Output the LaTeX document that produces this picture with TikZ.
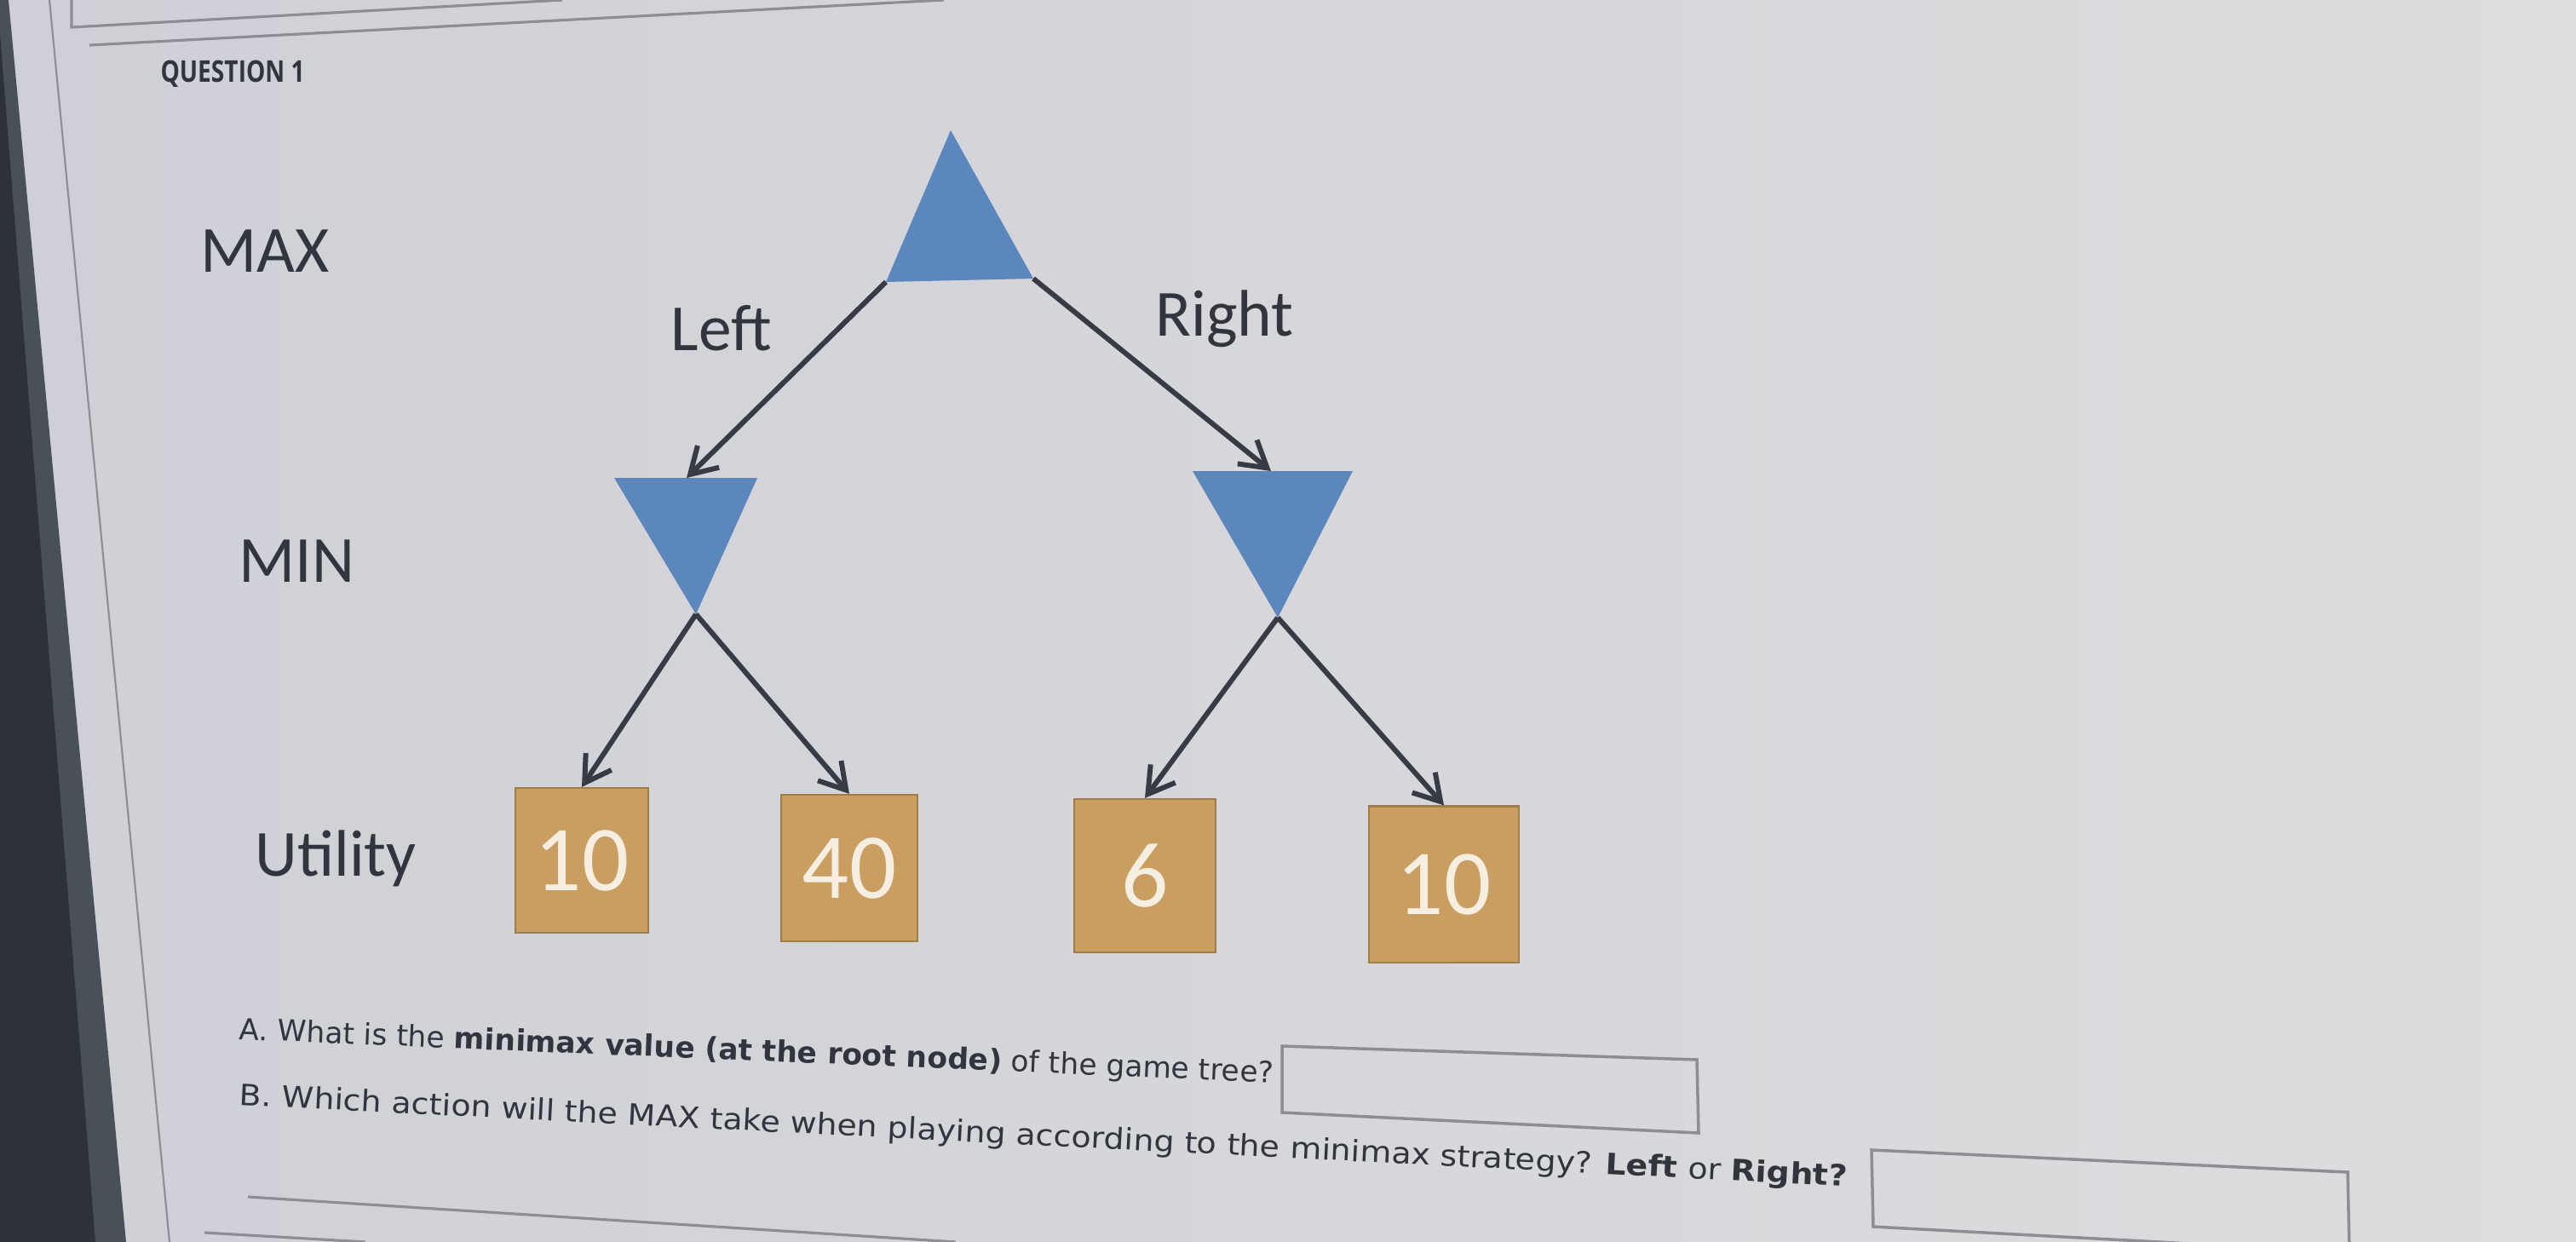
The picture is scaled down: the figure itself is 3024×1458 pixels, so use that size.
\documentclass[tikz,border=0pt]{standalone}
\usepackage{fontspec}
\setmainfont{Carlito}
\newfontfamily\qfont{DejaVu Sans}
\newfontfamily\hfont{Open Sans}
\usetikzlibrary{arrows.meta}
\definecolor{bgL}{RGB}{207,208,215}
\definecolor{bgR}{RGB}{221,221,223}
\definecolor{bezel}{RGB}{72,80,88}
\definecolor{bezeldark}{RGB}{44,50,55}
\definecolor{pageline}{RGB}{140,142,148}
\definecolor{triblue}{RGB}{92,135,188}
\definecolor{leaftan}{RGB}{201,158,96}
\definecolor{leafedge}{RGB}{160,124,72}
\definecolor{ink}{RGB}{50,54,60}
\definecolor{arrowink}{RGB}{55,60,68}
\definecolor{numwhite}{RGB}{245,238,225}
\tikzset{
  lbl/.style={anchor=base west, inner sep=0pt, text=ink, font=\fontsize{22pt}{26pt}\selectfont},
  leaf/.style={fill=leaftan, draw=leafedge, line width=0.6pt, text=numwhite, inner sep=0pt,
     font=\fontsize{31pt}{36pt}\selectfont},
  tri/.style={fill=triblue, draw=none},
  arr/.style={draw=arrowink, line width=1.7pt, -{Straight Barb[length=0.3cm,width=0.36cm]}},
  qtext/.style={anchor=base west, inner sep=0pt, text=ink, font=\qfont\fontsize{9.8pt}{11pt}\selectfont},
  ansbox/.style={draw=pageline, line width=1pt},
  thinline/.style={draw=pageline, line width=0.9pt}
}
\begin{document}
\begin{tikzpicture}[x=0.01cm,y=-0.01cm]
\useasboundingbox (0,0) rectangle (3024,1458);
% background
\shade[left color=bgL, right color=bgR] (0,0) rectangle (3024,1458);
% bezel at left
\fill[bezel] (0,0) -- (10,0) -- (148,1458) -- (0,1458) -- cycle;
\fill[bezeldark] (0,40) -- (112,1458) -- (0,1458) -- cycle;
% page border line
\draw[thinline, line width=0.6pt] (58,0) -- (199,1458);
% top lines
\draw[thinline] (84,0) -- (84,32) -- (660,0);
\draw[thinline] (105,53) -- (1108,0);
% bottom lines
\draw[thinline] (291,1405) -- (1122,1458);
\draw[thinline] (240,1447) -- (429,1458);

% heading
\node[anchor=base west, inner sep=0pt, text=ink, xscale=0.8, font=\hfont\bfseries\fontsize{10pt}{12pt}\selectfont] (q1) at (188,97) {QUESTION 1};

% row labels
\node[lbl] (maxlbl) at (235,320) {MAX};
\node[lbl] (minlbl) at (280,683) {MIN};
\node[lbl] (utillbl) at (299,1028) {Utility};

% triangles (corners as coordinates)
\coordinate (rootT) at (1116,153);
\coordinate (rootL) at (1040,331);
\coordinate (rootR) at (1213,327);
\fill[tri] (rootT) -- (rootL) -- (rootR) -- cycle;

\coordinate (minLa) at (721,561);
\coordinate (minLb) at (889,561);
\coordinate (minLbot) at (817,721);
\coordinate (minLtop) at (806,561);
\fill[tri] (minLa) -- (minLb) -- (minLbot) -- cycle;

\coordinate (minRa) at (1400,553);
\coordinate (minRb) at (1588,553);
\coordinate (minRbot) at (1500,725);
\coordinate (minRtop) at (1492,553);
\fill[tri] (minRa) -- (minRb) -- (minRbot) -- cycle;

% branch labels
\node[lbl] (leftlbl) at (787,412) {Left};
\node[lbl] (rightlbl) at (1356,395) {Right};

% leaves
\node[leaf, minimum width=1.56cm, minimum height=1.70cm] (l1) at (683,1010) {10};
\node[leaf, minimum width=1.60cm, minimum height=1.72cm] (l2) at (997,1019) {40};
\node[leaf, minimum width=1.66cm, minimum height=1.80cm] (l3) at (1344,1028) {6};
\node[leaf, minimum width=1.76cm, minimum height=1.83cm] (l4) at (1695,1038) {10};

% arrows
\draw[arr] (rootL) -- (minLtop);
\draw[arr] (rootR) -- (minRtop);
\draw[arr] (minLbot) -- (l1.north);
\draw[arr] (minLbot) -- (l2.north);
\draw[arr] (minRbot) -- (l3.north);
\draw[arr] (minRbot) -- (l4.north);

% questions
\node[qtext, rotate=-2.4] (qa) at (280,1220) {A. What is the \textbf{minimax value (at the root node)} of the game tree?};
\node[qtext, rotate=-2.9, xscale=1.1] (qb) at (280,1297) {B. Which action will the MAX take when playing according to the minimax strategy? \textbf{Left} or \textbf{Right?}};

% answer boxes
\draw[ansbox] (1505,1228) -- (1992,1244) -- (1994,1330) -- (1505,1306) -- cycle;
\draw[ansbox] (2197,1350) -- (2756,1376) -- (2758,1470) -- (2199,1440) -- cycle;
\end{tikzpicture}
\end{document}
